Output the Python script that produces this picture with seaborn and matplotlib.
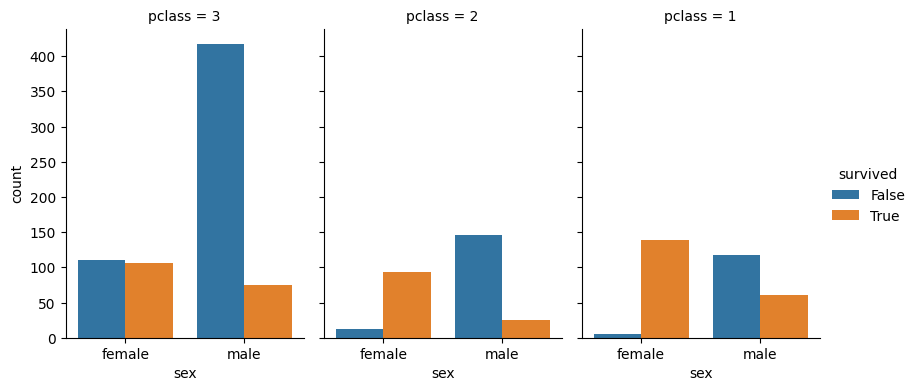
import pandas as pd
import matplotlib
matplotlib.use("Agg")
import matplotlib.pyplot as plt
import seaborn as sns

# counts (full titanic passenger list)
pclass = [3, 3, 3, 3, 2, 2, 2, 2, 1, 1, 1, 1]
sex = ["female", "female", "male", "male"] * 3
survived = ["False", "True", "False", "True"] * 3
counts = [110, 106, 418, 75, 12, 94, 146, 25, 5, 139, 118, 61]

df = pd.DataFrame({"pclass": pclass, "sex": sex, "survived": survived, "count": counts})

g = sns.catplot(
    data=df, x="sex", y="count", hue="survived", col="pclass",
    col_order=[3, 2, 1], order=["female", "male"], hue_order=["False", "True"],
    kind="bar", height=3.9, aspect=0.72,
)
g.set_axis_labels("sex", "count")
g.figure.set_size_inches(9.15, 3.9)
g.figure.subplots_adjust(left=0.072, right=0.896, bottom=0.136, top=0.928, wspace=0.084)
g.savefig("out.png", dpi=100)
